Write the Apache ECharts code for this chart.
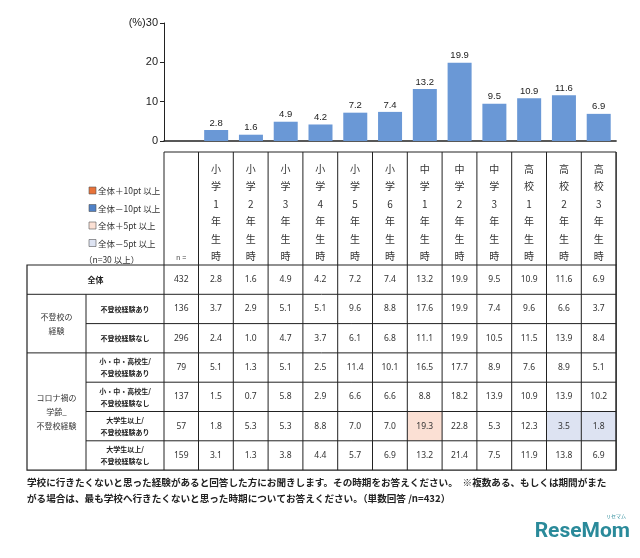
<!DOCTYPE html><html><head><meta charset="utf-8">
<script src="https://cdn.jsdelivr.net/npm/echarts@6/dist/echarts.min.js"></script>
<style>body{margin:0}#c{width:640px;height:558px}</style></head><body><div id="c"></div>
<script>
const categories=['小学1年生時','小学2年生時','小学3年生時','小学4年生時','小学5年生時','小学6年生時','中学1年生時','中学2年生時','中学3年生時','高校1年生時','高校2年生時','高校3年生時'];
const overall=[2.8,1.6,4.9,4.2,7.2,7.4,13.2,19.9,9.5,10.9,11.6,6.9];
const yTicks=[0,10,20,30];
const rowLabels=['全体','不登校経験あり','不登校経験なし','小・中・高校生/\n不登校経験あり','小・中・高校生/\n不登校経験なし','大学生以上/\n不登校経験あり','大学生以上/\n不登校経験なし'];
const rowN=[432,136,296,79,137,57,159];
const rowVals=[
[2.8,1.6,4.9,4.2,7.2,7.4,13.2,19.9,9.5,10.9,11.6,6.9],
[3.7,2.9,5.1,5.1,9.6,8.8,17.6,19.9,7.4,9.6,6.6,3.7],
[2.4,1.0,4.7,3.7,6.1,6.8,11.1,19.9,10.5,11.5,13.9,8.4],
[5.1,1.3,5.1,2.5,11.4,10.1,16.5,17.7,8.9,7.6,8.9,5.1],
[1.5,0.7,5.8,2.9,6.6,6.6,8.8,18.2,13.9,10.9,13.9,10.2],
[1.8,5.3,5.3,8.8,7.0,7.0,19.3,22.8,5.3,12.3,3.5,1.8],
[3.1,1.3,3.8,4.4,5.7,6.9,13.2,21.4,7.5,11.9,13.8,6.9]];
const legendItems=['全体＋10pt 以上','全体－10pt 以上','全体＋5pt 以上','全体－5pt 以上'];
const legendColors=['#e8733a','#4f81c7','#fbe0d4','#dde3f2'];
// highlighted cells: [row, col, colorIndex]
const highlights=[[5,6,2],[5,10,3],[5,11,3]];

const L=27, G=86, NX=164, C0=198.5, CW=34.8, R=C0+CW*12, HT=152, HB=265, RH=29.3;
const g=[];
const rowY=i=>HB+i*RH;
const lineStyle={stroke:'#222',lineWidth:1};
// highlight fills
highlights.forEach(([r,c,k])=>g.push({type:'rect',shape:{x:C0+c*CW,y:rowY(r),width:CW,height:RH},style:{fill:legendColors[k]}}));
// outer and grid lines
g.push({type:'rect',shape:{x:L,y:HB,width:R-L,height:RH*7},style:{fill:'none',stroke:'#222',lineWidth:1.2}});
g.push({type:'line',shape:{x1:NX,y1:HT,x2:R,y2:HT},style:lineStyle});
g.push({type:'line',shape:{x1:R,y1:HT,x2:R,y2:HB},style:lineStyle});
for(let c=0;c<=12;c++){const x=C0+c*CW;g.push({type:'line',shape:{x1:x,y1:HT,x2:x,y2:HB+RH*7},style:lineStyle});}
g.push({type:'line',shape:{x1:NX,y1:HT,x2:NX,y2:HB+RH*7},style:lineStyle});
for(let i=1;i<7;i++){const x1=(i===1||i===3)?L:G;g.push({type:'line',shape:{x1:x1,y1:rowY(i),x2:R,y2:rowY(i)},style:lineStyle});}
g.push({type:'line',shape:{x1:G,y1:rowY(1),x2:G,y2:rowY(7)},style:lineStyle});
// header
categories.forEach((c,i)=>g.push({type:'text',style:{text:c.split('').join('\n'),x:C0+(i+0.5)*CW,y:HT+8,align:'center',verticalAlign:'top',fontSize:10,lineHeight:17.5,fill:'#333',fontFamily:'Noto Sans CJK JP'}}));
g.push({type:'text',style:{text:'n =',x:(NX+C0)/2,y:HB-7,align:'center',verticalAlign:'middle',fontSize:7,fill:'#444'}});
legendItems.forEach((t,i)=>{const y=191+i*17.5;
 g.push({type:'rect',shape:{x:89,y:y-4,width:7,height:7},style:{fill:legendColors[i],stroke:'#555',lineWidth:0.6}});
 g.push({type:'text',style:{text:t,x:98,y:y,verticalAlign:'middle',fontSize:8.5,fill:'#333',fontFamily:'Noto Sans CJK JP'}});});
g.push({type:'text',style:{text:'（n=30 以上）',x:84,y:260,verticalAlign:'middle',fontSize:8.5,fill:'#333',fontFamily:'Noto Sans CJK JP'}});
// row labels
g.push({type:'text',style:{text:'全体',x:(L+NX)/2,y:rowY(0)+RH/2,align:'center',verticalAlign:'middle',fontSize:8,fontWeight:'bold',fill:'#222',fontFamily:'Noto Sans CJK JP'}});
g.push({type:'text',style:{text:'不登校の\n経験',x:(L+G)/2,y:rowY(2),align:'center',verticalAlign:'middle',fontSize:8,lineHeight:14,fill:'#333',fontFamily:'Noto Sans CJK JP'}});
g.push({type:'text',style:{text:'コロナ禍の\n学齢_\n不登校経験',x:(L+G)/2,y:rowY(5),align:'center',verticalAlign:'middle',fontSize:8,lineHeight:14,fill:'#333',fontFamily:'Noto Sans CJK JP'}});
for(let r=1;r<7;r++)g.push({type:'text',style:{text:rowLabels[r],x:(G+NX)/2,y:rowY(r)+RH/2,align:'center',verticalAlign:'middle',fontSize:7,lineHeight:12,fontWeight:'bold',fill:'#222',fontFamily:'Noto Sans CJK JP'}});
for(let r=0;r<7;r++){
 g.push({type:'text',style:{text:String(rowN[r]),x:(NX+C0)/2,y:rowY(r)+RH/2,align:'center',verticalAlign:'middle',fontSize:8.5,fill:'#333',fontFamily:'Liberation Sans Narrow, Noto Sans'}});
 rowVals[r].forEach((v,c)=>g.push({type:'text',style:{text:v.toFixed(1),x:C0+(c+0.5)*CW,y:rowY(r)+RH/2,align:'center',verticalAlign:'middle',fontSize:8.5,fill:'#333',fontFamily:'Liberation Sans Narrow, Noto Sans'}}));
}
// footnote
g.push({type:'text',style:{text:'学校に行きたくないと思った経験があると回答した方にお聞きします。その時期をお答えください。　※複数ある、もしくは期間がまた\nがる場合は、最も学校へ行きたくないと思った時期についてお答えください。（単数回答 /n=432）',x:27,y:474,verticalAlign:'top',fontSize:9.6,lineHeight:16,fontWeight:'bold',fill:'#222',fontFamily:'Noto Sans CJK JP'}});
g.push({type:'text',style:{text:'ReseMom',x:630,y:532,align:'right',verticalAlign:'middle',fontSize:21,fontWeight:'bold',fill:'#2a8a9a',fontFamily:'Roboto'}});
g.push({type:'text',style:{text:'リセマム',x:626,y:516,align:'right',verticalAlign:'middle',fontSize:5,fill:'#2a8a9a',fontFamily:'Noto Sans CJK JP'}});

const chart=echarts.init(document.getElementById('c'));
chart.setOption({
 animation:false,
 grid:{left:NX,right:640-R,top:23,bottom:558-141},
 xAxis:{type:'category',data:[''].concat(categories),axisTick:{show:false},axisLabel:{show:false},axisLine:{lineStyle:{color:'#222',width:1.5}}},
 yAxis:{type:'value',min:yTicks[0],max:yTicks[3],interval:10,splitLine:{show:false},axisLine:{show:true,lineStyle:{color:'#222'}},axisTick:{show:true,length:4,lineStyle:{color:'#222'}},
  axisLabel:{color:'#222',fontSize:11,margin:6,formatter:v=>v===30?'(%)30':String(v)}},
 series:[{type:'bar',data:[null].concat(overall),barWidth:24,itemStyle:{color:'#6a98d6'},
  label:{show:true,position:'top',fontSize:9.5,color:'#222',distance:2,formatter:p=>p.value==null?'':p.value.toFixed(1)}}],
 graphic:g
});
</script></body></html>
